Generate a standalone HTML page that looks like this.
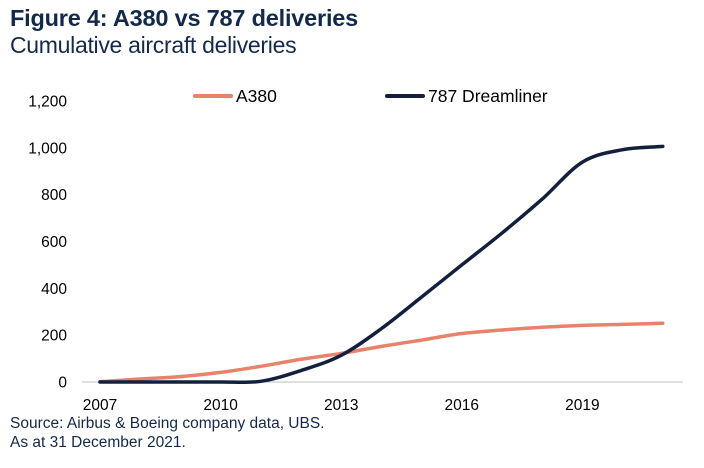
<!DOCTYPE html>
<html><head><meta charset="utf-8"><style>
body{margin:0;background:#fff;width:704px;height:468px;overflow:hidden;font-family:"Liberation Sans",sans-serif;}
.t{position:absolute;left:10px;top:5px;font-size:23.5px;font-weight:bold;color:#13294b;letter-spacing:-0.2px}
.s{position:absolute;left:10px;top:32px;font-size:23px;color:#13294b;letter-spacing:-0.3px}
.src{position:absolute;left:10px;font-size:15.5px;color:#13294b}
</style></head><body>
<div class="t">Figure 4: A380 vs 787 deliveries</div>
<div class="s">Cumulative aircraft deliveries</div>
<svg id="c" width="704" height="468" style="position:absolute;left:0;top:0"></svg>
<div class="src" style="top:415px">Source: Airbus &amp; Boeing company data, UBS.</div>
<div class="src" style="top:434px">As at 31 December 2021.</div>
<script>
const years=[2007,2008,2009,2010,2011,2012,2013,2014,2015,2016,2017,2018,2019,2020,2021];
const a380=[1,13,23,41,67,97,122,152,179,207,222,234,242,246,251];
const b787=[0,0,0,0,3,49,114,228,363,500,636,781,939,992,1006];
const yTicks=[0,200,400,600,800,1000,1200];
const xTicks=[2007,2010,2013,2016,2019];
const NS="http://www.w3.org/2000/svg";
const svg=document.getElementById('c');
const x=v=>100+(v-2007)*40.2;
const y=v=>382-v*(281/1200);
function mk(t,a){const e=document.createElementNS(NS,t);for(const k in a)e.setAttribute(k,a[k]);svg.appendChild(e);return e;}
const ax=mk('line',{x1:82,x2:683,y1:382,y2:382,stroke:'#bfbfbf','stroke-width':1});


yTicks.forEach(v=>{const t=mk('text',{x:67,y:y(v)+5.5,'text-anchor':'end','font-size':15.5,fill:'#000','font-family':'Liberation Sans'});t.textContent=v.toLocaleString('en-US');

});
xTicks.forEach(v=>{const t=mk('text',{x:x(v),y:410,'text-anchor':'middle','font-size':15.5,fill:'#000','font-family':'Liberation Sans'});t.textContent=v;

});
function path(d){const p=d.map((v,i)=>[x(years[i]),y(v)]);let s=`M${p[0][0]},${p[0][1]}`;
for(let i=0;i<p.length-1;i++){const p0=p[Math.max(0,i-1)],p1=p[i],p2=p[i+1],p3=p[Math.min(p.length-1,i+2)];
const c1=[p1[0]+(p2[0]-p0[0])/6,p1[1]+(p2[1]-p0[1])/6],c2=[p2[0]-(p3[0]-p1[0])/6,p2[1]-(p3[1]-p1[1])/6];
s+=`C${c1[0]},${c1[1]} ${c2[0]},${c2[1]} ${p2[0]},${p2[1]}`;}return s;}
const l1=mk('path',{d:path(a380),fill:'none',stroke:'#e8826a','stroke-width':3.5,'stroke-linecap':'round'});


const l2=mk('path',{d:path(b787),fill:'none',stroke:'#13203d','stroke-width':3.5,'stroke-linecap':'round'});


[[195,'#e8826a','A380','legend-a380'],[387,'#13203d','787 Dreamliner','legend-787']].forEach(([lx,c,txt,n])=>{
const g=mk('g',{});

const l=document.createElementNS(NS,'line');l.setAttribute('x1',lx);l.setAttribute('x2',lx+36);l.setAttribute('y1',96);l.setAttribute('y2',96);l.setAttribute('stroke',c);l.setAttribute('stroke-width',4);l.setAttribute('stroke-linecap','round');g.appendChild(l);
const t=document.createElementNS(NS,'text');t.setAttribute('x',lx+41);t.setAttribute('y',102);t.setAttribute('font-size',17.5);t.setAttribute('font-family','Liberation Sans');t.textContent=txt;g.appendChild(t);});
</script>
</body></html>
